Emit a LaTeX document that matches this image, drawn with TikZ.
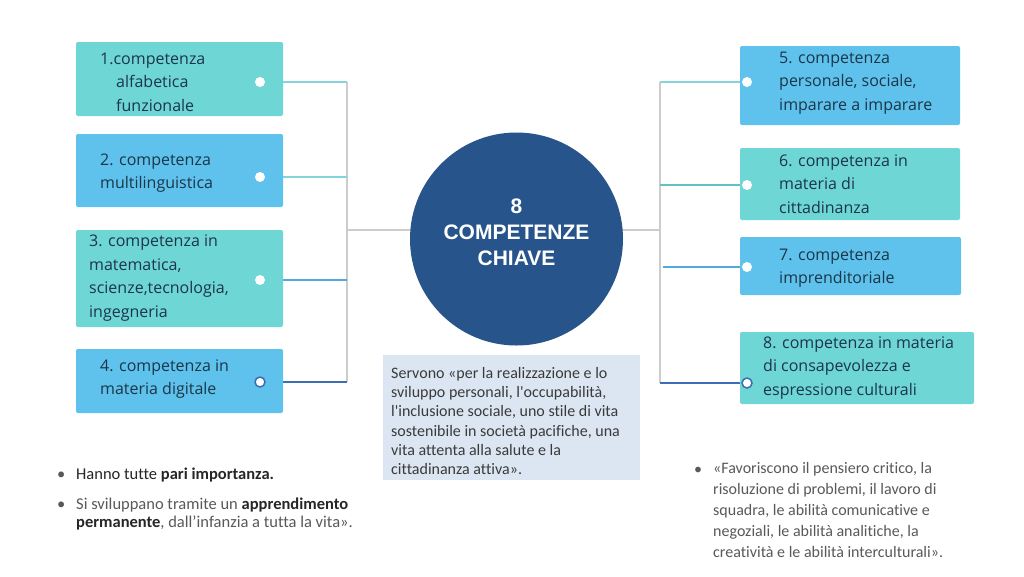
\documentclass[tikz,border=0pt]{standalone}
\usepackage{fontspec}
\setmainfont{Open Sans}
\newfontfamily\calfont[Ligatures={NoCommon}]{Carlito}
\newfontfamily\headfont{Liberation Sans}
\definecolor{cteal}{HTML}{6FD6D6}
\definecolor{cblue}{HTML}{5EC2EC}
\definecolor{txtc}{HTML}{1B3648}
\definecolor{ccirc}{HTML}{27548A}
\definecolor{cgrey}{HTML}{CCCCCC}
\definecolor{clight}{HTML}{86D3DB}
\definecolor{cmid}{HTML}{55A9DA}
\definecolor{cdark}{HTML}{3B6EB5}
\definecolor{ccap}{HTML}{DCE6F2}
\definecolor{capt}{HTML}{3A3A3A}
\definecolor{bgray}{HTML}{595959}
\definecolor{bdark}{HTML}{262626}
\pgfdeclarelayer{bg}
\pgfdeclarelayer{lines}
\pgfsetlayers{bg,lines,main}
\begin{document}
\begin{tikzpicture}[x=1pt,y=-1pt,
  box/.style={rectangle, rounded corners=2pt, inner sep=0pt},
  boxtxt/.style={anchor=west, align=left, inner sep=0pt, text=txtc, font=\fontsize{16}{23.5}\selectfont},
  dot/.style={circle, fill=white, inner sep=0pt, minimum size=10pt},
  odot/.style={dot, draw=cdark, line width=1.5pt},
  trunk/.style={draw=cgrey, line width=2pt},
  conn/.style={line width=1.3pt},
  captxt/.style={anchor=west, align=left, inner sep=0pt, text=capt, font=\calfont\fontsize{16}{19.3}\selectfont},
  bul/.style={anchor=base west, inner sep=0pt, text=bgray, font=\calfont\fontsize{16.5}{18}\selectfont},
]
\begin{pgfonlayer}{bg}
\fill[white] (0,0) rectangle (1024,576);
\end{pgfonlayer}
\useasboundingbox (0,0) rectangle (1024,576);

% boxes left
\node[box, fill=cteal, minimum width=207pt, minimum height=74pt] (b1) at (179.5,79) {};
\node[box, fill=cblue, minimum width=207pt, minimum height=73pt] (b2) at (179.5,170.5) {};
\node[box, fill=cteal, minimum width=207pt, minimum height=97pt] (b3) at (179.5,278.5) {};
\node[box, fill=cblue, minimum width=207pt, minimum height=64pt] (b4) at (179.5,381) {};
% boxes right
\node[box, fill=cblue, minimum width=220pt, minimum height=79pt] (b5) at (850,85.5) {};
\node[box, fill=cteal, minimum width=220pt, minimum height=72pt] (b6) at (850,184) {};
\node[box, fill=cblue, minimum width=221pt, minimum height=58pt] (b7) at (850.5,266) {};
\node[box, fill=cteal, minimum width=234pt, minimum height=72pt] (b8) at (857,368) {};

% box texts
\node[boxtxt] (t1) at (100,82) {1.competenza\\\hspace*{16pt}alfabetica\\\hspace*{16pt}funzionale};
\node[boxtxt] (t2) at (100,173) {2. competenza\\multilinguistica};
\node[boxtxt] (t3) at (89,278) {3. competenza in\\matematica,\\scienze,tecnologia,\\ingegneria};
\node[boxtxt] (t4) at (100,379) {4. competenza in\\materia digitale};
\node[boxtxt] (t5) at (779,83) {5. competenza\\personale, sociale,\\imparare a imparare};
\node[boxtxt] (t6) at (779,184) {6. competenza in\\materia di\\cittadinanza};
\node[boxtxt] (t7) at (779,268) {7. competenza\\imprenditoriale};
\node[boxtxt] (t8) at (763,368) {8. competenza in materia\\di consapevolezza e\\espressione culturali};

% dots
\node[dot] (d1) at (260,82) {};
\node[dot] (d2) at (260,177) {};
\node[dot] (d3) at (260,280) {};
\node[odot] (d4) at (260,382) {};
\node[dot] (d5) at (747,82) {};
\node[dot] (d6) at (747,185) {};
\node[dot] (d7) at (747,267) {};
\node[odot] (d8) at (747,383) {};

% centre circle
\node[circle, fill=ccirc, minimum size=213pt, inner sep=0pt] (c) at (516.5,239) {};
\node[anchor=center, align=center, inner sep=0pt, text=white, font=\headfont\bfseries\fontsize{21}{26}\selectfont] (ct) at (516.5,232) {8\\COMPETENZE\\CHIAVE};

% trunks
\coordinate (ltop) at (347,82);
\coordinate (lbot) at (347,382);
\coordinate (lmid) at (347,230);
\coordinate (rtop) at (660,82);
\coordinate (rbot) at (660,383);
\coordinate (rmid) at (660,230);
\coordinate (r7) at (663,267);
\begin{pgfonlayer}{lines}
\draw[trunk] (ltop) -- (lbot);
\draw[trunk] (rtop) -- (rbot);
\draw[trunk] (lmid) -- (rmid);
\draw[conn, clight] (d1) -- (d1 -| ltop);
\draw[conn, clight] (d2) -- (d2 -| ltop);
\draw[conn, cmid] (d3) -- (d3 -| ltop);
\draw[conn, cdark] (d4) -- (d4 -| ltop);
\draw[conn, clight] (d5) -- (d5 -| rtop);
\draw[conn, cteal!90!black] (d6) -- (d6 -| rtop);
\draw[conn, cmid] (d7) -- (r7);
\draw[conn, cdark] (d8) -- (d8 -| rtop);
\end{pgfonlayer}

% caption
\node[box, rounded corners=0pt, fill=ccap, minimum width=257pt, minimum height=125pt] (cap) at (511.5,417.5) {};
\node[captxt] (capt) at (391,421) {Servono «per la realizzazione e lo\\sviluppo personali, l'occupabilità,\\l'inclusione sociale, uno stile di vita\\sostenibile in società pacifiche, una\\vita attenta alla salute e la\\cittadinanza attiva».};

% left bullets
\node[bul] (lb1) at (57,479) {•};
\node[bul, text=bdark] (lt1) at (76,479) {Hanno tutte \textbf{pari importanza.}};
\node[bul] (lb2) at (57,509) {•};
\node[bul] (lt2) at (76,509) {Si sviluppano tramite un \textbf{\color{bdark}apprendimento}};
\node[bul] (lt3) at (76,527) {\textbf{\color{bdark}permanente}, dall’infanzia a tutta la vita».};

% right bullets
\node[bul, font=\calfont\fontsize{16}{21}\selectfont] (rb1) at (694,474) {•};
\node[bul, anchor=north west, align=left, font=\calfont\fontsize{16}{21}\selectfont] (rt1) at (713,462) {«Favoriscono il pensiero critico, la\\risoluzione di problemi, il lavoro di\\squadra, le abilità comunicative e\\negoziali, le abilità analitiche, la\\creatività e le abilità interculturali».};
\end{tikzpicture}
\end{document}
